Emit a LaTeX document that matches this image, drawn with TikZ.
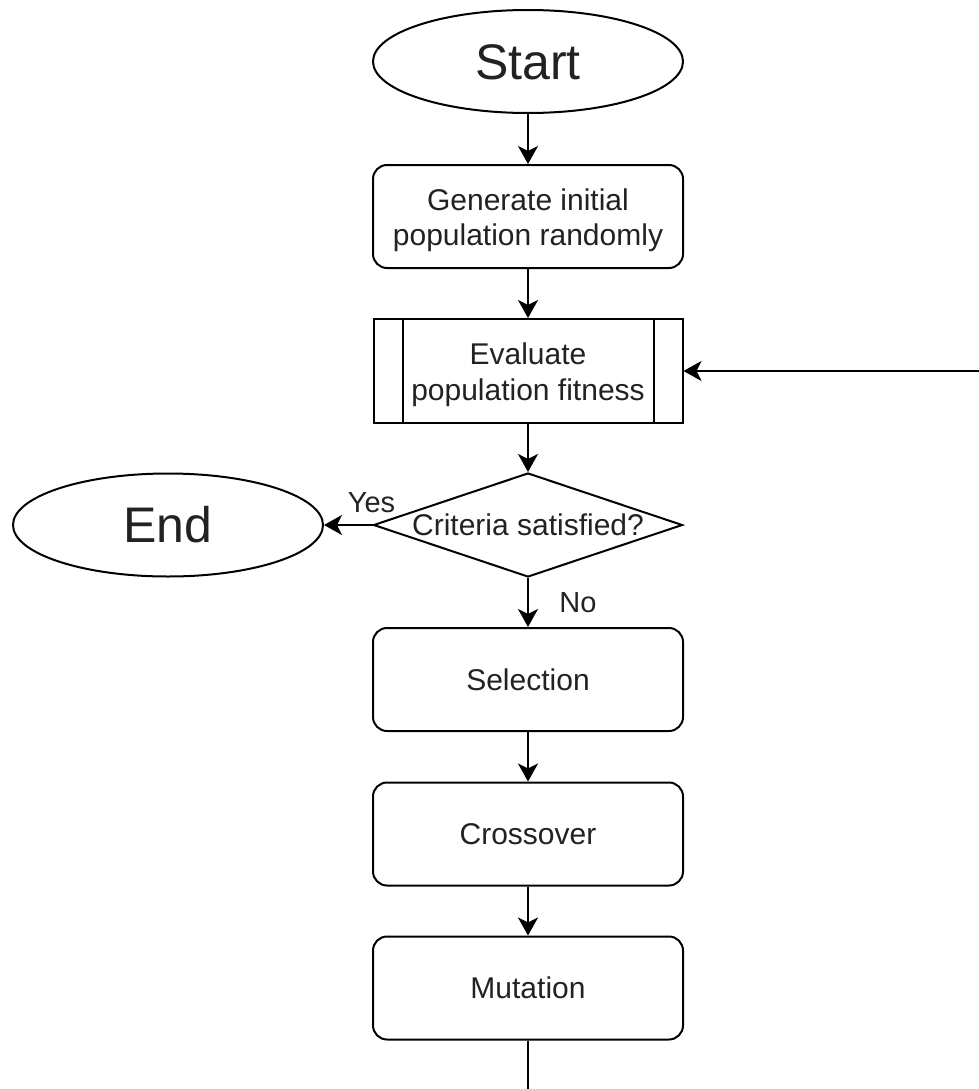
\documentclass[tikz,border=0pt]{standalone}
\usepackage{fontspec}
\setmainfont{Liberation Sans}
\usetikzlibrary{shapes.geometric,arrows.meta}
\definecolor{ink}{HTML}{222222}
\begin{document}
\begin{tikzpicture}[x=1pt,y=-1pt,
  line width=2pt,
  every node/.style={text=ink},
  boxfont/.style={font=\fontsize{30}{35}\selectfont},
  box/.style={draw=black, rounded corners=14pt, minimum width=310pt,
    minimum height=103pt, inner sep=0pt, boxfont,
    text height=21.5pt, text depth=0pt},
  term/.style={draw=black, ellipse, minimum width=310pt, minimum height=103pt,
    inner sep=0pt, font=\fontsize{50}{60}\selectfont, text height=35.8pt, text depth=0pt},
  procbox/.style={draw=black, rectangle, minimum width=309pt, minimum height=104pt, inner sep=0pt},
  decision/.style={draw=black, diamond, minimum width=309pt, minimum height=104pt, inner sep=0pt},
  plain/.style={boxfont, inner sep=0pt, text height=21.5pt, text depth=0pt},
  textline/.style={boxfont, inner sep=0pt, anchor=base},
  lbl/.style={font=\fontsize{29}{34}\selectfont, inner sep=0pt},
  arr/.style={-{Stealth[length=18pt,width=20pt,inset=5pt]}}
]
\useasboundingbox (0,0) rectangle (979,1089);

% main column
\node[term] (start) at (528,61.5) {Start};
\node[box] (gen) at (528,216.5) {};
\node[textline] (gen1) at (528,210) {Generate initial};
\node[textline] (gen2) at (528,245) {population randomly};
\node[procbox] (eval) at (528,371) {};
\draw ([xshift=30pt]eval.north west) -- ([xshift=30pt]eval.south west);
\draw ([xshift=-30pt]eval.north east) -- ([xshift=-30pt]eval.south east);
\node[textline] (eval1) at (528,364) {Evaluate};
\node[textline] (eval2) at (528,400) {population fitness};
\node[decision] (dec) at (528,525) {};
\node[plain] (dectext) at (dec.center) {Criteria satisfied?};
\node[term] (stop) at (168,525) {End};
\node[box] (sel) at (528,679.5) {Selection};
\node[box] (cross) at (528,834) {Crossover};
\node[box] (mut) at (528,988) {Mutation};

% loop ends running off the sheet
\coordinate (loopout) at (528,1089);
\coordinate (loopin) at (979,371);

% connectors
\draw[arr] (start) -- (gen);
\draw[arr] (gen) -- (eval);
\draw[arr] (eval) -- (dec);
\draw[arr] (dec.west) -- node[lbl, pos=0.02, anchor=base, yshift=13pt] (yes) {Yes} (stop.east);
\draw[arr] (dec.south) -- node[lbl, pos=0.706, anchor=base, xshift=50pt] (no) {No} (sel.north);
\draw[arr] (sel) -- (cross);
\draw[arr] (cross) -- (mut);
\draw (mut.south) -- (loopout);
\draw[arr] (loopin) -- (eval.east);
\end{tikzpicture}
\end{document}
